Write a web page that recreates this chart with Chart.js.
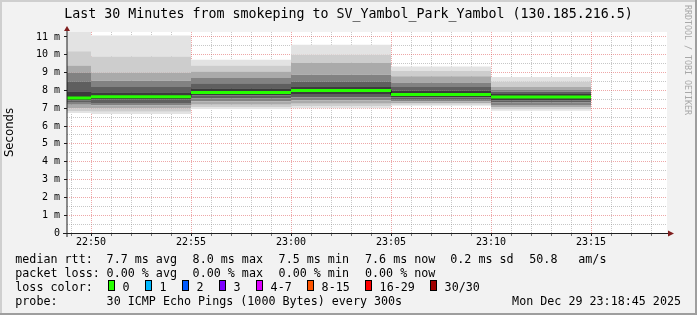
<!DOCTYPE html>
<html>
<head>
<meta charset="utf-8">
<title>smokeping - SV_Yambol_Park_Yambol</title>
<script src="https://cdn.jsdelivr.net/npm/chart.js@4.4.1/dist/chart.umd.min.js"></script>
<style>
  html, body { margin: 0; padding: 0; background: #f2f2f2; }
  #wrap { width: 697px; height: 315px; }
</style>
</head>
<body>
<div id="wrap"><canvas id="smoke" width="697" height="315"></canvas></div>
<script>
// rrd steps (300s), value belongs to the step that ends here
var stepEnds = ['22:50', '22:55', '23:00', '23:05', '23:10', '23:15'];
var stepMinutes = 5;
var viewStart = '22:48:48';
var viewEnd = '23:18:48';

// sorted ping rtt (ms) per step, rank n of 30
var ping1  = [6.73, 6.68, 6.96, 7.00, 7.14, 6.86];
var ping2  = [6.85, 6.80, 7.05, 7.10, 7.20, 6.93];
var ping4  = [7.00, 6.98, 7.20, 7.25, 7.28, 7.05];
var ping7  = [7.20, 7.15, 7.40, 7.45, 7.38, 7.18];
var ping10 = [7.35, 7.30, 7.55, 7.60, 7.48, 7.32];
var ping13 = [7.45, 7.50, 7.72, 7.80, 7.60, 7.45];
var median = [7.57, 7.65, 7.89, 8.00, 7.77, 7.63];
var ping18 = [7.95, 7.90, 8.12, 8.20, 7.98, 7.80];
var ping21 = [8.50, 8.20, 8.40, 8.50, 8.20, 7.92];
var ping24 = [9.00, 8.55, 8.70, 8.88, 8.45, 8.05];
var ping27 = [9.40, 9.00, 9.07, 9.55, 8.80, 8.20];
var ping29 = [10.20, 9.90, 9.40, 10.00, 9.10, 8.50];
var ping30 = [11.28, 11.09, 9.72, 10.57, 9.35, 8.75];
var lossCount = [0, 0, 0, 0, 0, 0];

var lossLabels = ['0', '1', '2', '3', '4-7', '8-15', '16-29', '30/30'];
var lossFrom   = [0, 1, 2, 3, 4, 8, 16, 30];
var lossColors = ['#26ff00', '#00b8ff', '#0059ff', '#7e00ff', '#dd00ff', '#ff5500', '#ff0000', '#a00000'];

var rttAvg = 7.7, rttMax = 8.0, rttMin = 7.5, rttNow = 7.6, rttSd = 0.2, rttAmS = 50.8;
var lossAvg = 0, lossMax = 0, lossMin = 0, lossNow = 0;

var titleText = 'Last 30 Minutes from smokeping to SV_Yambol_Park_Yambol (130.185.216.5)';
var probeText = '30 ICMP Echo Pings (1000 Bytes) every 300s';
var stampText = 'Mon Dec 29 23:18:45 2025';

var MONO = '"DejaVu Sans Mono", monospace';

function toMin(s) {
  var p = s.split(':');
  return (+p[0]) * 60 + (+p[1]) + (p[2] ? (+p[2]) / 60 : 0);
}
function hhmm(v) {
  var h = Math.floor(v / 60), m = Math.round(v - h * 60);
  return (h < 10 ? '0' : '') + h + ':' + (m < 10 ? '0' : '') + m;
}
function lossColor(n) {
  var c = lossColors[0];
  for (var i = 0; i < lossFrom.length; i++) { if (n >= lossFrom[i]) c = lossColors[i]; }
  return c;
}

// each step as a flat run from its start to its end
function stepPoints(series) {
  var pts = [];
  stepEnds.forEach(function(e, k) {
    var end = toMin(e);
    pts.push({ x: end - stepMinutes, y: series[k] });
    pts.push({ x: end, y: series[k] });
  });
  return pts;
}
function brokenPoints(series) {
  var pts = [];
  stepEnds.forEach(function(e, k) {
    var end = toMin(e);
    pts.push({ x: end - stepMinutes, y: series[k] });
    pts.push({ x: end, y: series[k] });
    pts.push({ x: end, y: null });
  });
  return pts;
}

// smoke: bands between neighbouring ranks, darker towards the median
var ranks = [ping1, ping2, ping4, ping7, ping10, ping13, median, ping18, ping21, ping24, ping27, ping29, ping30];
var bandGrey = [0, 227, 205, 170, 130, 95, 60, 60, 95, 130, 170, 205, 227];

var datasets = ranks.map(function(r, i) {
  var g = bandGrey[i];
  return {
    data: stepPoints(r),
    borderWidth: 0,
    pointRadius: 0,
    order: 3,
    fill: i === 0 ? false : { target: i - 1 },
    backgroundColor: 'rgb(' + g + ',' + g + ',' + g + ')'
  };
});

// median line (dark) and loss coloured bar on top
datasets.push({
  data: stepPoints(median),
  borderColor: '#202020',
  borderWidth: 1,
  pointRadius: 0,
  fill: false,
  order: 2
});
datasets.push({
  data: brokenPoints(median),
  borderWidth: 3,
  pointRadius: 0,
  fill: false,
  spanGaps: false,
  order: 1,
  borderColor: lossColor(lossCount[0]),
  segment: {
    borderColor: function(ctx) { return lossColor(lossCount[Math.floor(ctx.p0DataIndex / 3)]); }
  }
});

var MINOR = 'rgba(143,143,143,0.5)';
var MAJOR = 'rgba(222,79,79,0.5)';

var rrdFrame = {
  id: 'rrdFrame',
  beforeDraw: function(chart) {
    var ctx = chart.ctx, w = chart.width, h = chart.height, a = chart.chartArea;
    ctx.save();
    ctx.fillStyle = '#f2f2f2';
    ctx.fillRect(0, 0, w, h);
    ctx.fillStyle = '#cfcfcf';
    ctx.fillRect(0, 0, w, 2);
    ctx.fillRect(0, 0, 2, h);
    ctx.fillStyle = '#9e9e9e';
    ctx.fillRect(0, h - 2, w, 2);
    ctx.fillRect(w - 2, 0, 2, h);
    ctx.fillStyle = '#ffffff';
    ctx.fillRect(a.left, a.top, a.right - a.left, a.bottom - a.top);
    ctx.restore();
  },
  afterDraw: function(chart) {
    var ctx = chart.ctx, a = chart.chartArea, w = chart.width;
    ctx.save();

    // axes with arrows
    ctx.strokeStyle = '#1f1f1f';
    ctx.lineWidth = 1;
    ctx.beginPath();
    ctx.moveTo(a.left - 4, a.bottom + 0.5);
    ctx.lineTo(a.right + 2, a.bottom + 0.5);
    ctx.moveTo(a.left, a.bottom + 4);
    ctx.lineTo(a.left, a.top - 1);
    ctx.stroke();
    ctx.fillStyle = '#801f1f';
    ctx.beginPath();
    ctx.moveTo(a.right + 7, a.bottom + 0.5);
    ctx.lineTo(a.right + 1, a.bottom - 2.5);
    ctx.lineTo(a.right + 1, a.bottom + 3.5);
    ctx.closePath();
    ctx.fill();
    ctx.beginPath();
    ctx.moveTo(a.left, a.top - 6);
    ctx.lineTo(a.left - 3, a.top - 1);
    ctx.lineTo(a.left + 3, a.top - 1);
    ctx.closePath();
    ctx.fill();

    // title
    ctx.fillStyle = '#000';
    ctx.font = '13.3px ' + MONO;
    ctx.textAlign = 'center';
    ctx.textBaseline = 'alphabetic';
    ctx.fillText(titleText, w / 2, 18);

    // vertical label
    ctx.save();
    ctx.translate(10, (a.top + a.bottom) / 2);
    ctx.rotate(-Math.PI / 2);
    ctx.font = '11.7px "DejaVu Sans", sans-serif';
    ctx.textBaseline = 'middle';
    ctx.fillText('Seconds', 0, 0);
    ctx.restore();

    // watermark
    ctx.save();
    ctx.translate(687, 5);
    ctx.rotate(Math.PI / 2);
    ctx.font = '8.3px ' + MONO;
    ctx.fillStyle = '#a8a8a8';
    ctx.textAlign = 'left';
    ctx.textBaseline = 'middle';
    ctx.fillText('RRDTOOL / TOBI OETIKER', 0, 0);
    ctx.restore();

    // legend
    ctx.font = '11.7px ' + MONO;
    ctx.textAlign = 'left';
    ctx.textBaseline = 'alphabetic';
    ctx.fillStyle = '#000';
    var cols = [106.6, 192.6, 278.6, 365];
    var rows = [263, 277, 291, 305];

    ctx.fillText('median rtt:', 15.3, rows[0]);
    [[rttAvg, 'avg'], [rttMax, 'max'], [rttMin, 'min'], [rttNow, 'now']].forEach(function(s, i) {
      ctx.fillText(s[0].toFixed(1) + ' ms ' + s[1], cols[i], rows[0]);
    });
    ctx.fillText(rttSd.toFixed(1) + ' ms sd', 450.3, rows[0]);
    ctx.fillText(rttAmS.toFixed(1), 529.3, rows[0]);
    ctx.fillText('am/s', 578.3, rows[0]);

    ctx.fillText('packet loss:', 15.3, rows[1]);
    [[lossAvg, 'avg'], [lossMax, 'max'], [lossMin, 'min'], [lossNow, 'now']].forEach(function(s, i) {
      ctx.fillText(s[0].toFixed(2) + ' % ' + s[1], cols[i], rows[1]);
    });

    ctx.fillText('loss color:', 15.3, rows[2]);
    var boxX = [108, 145, 182, 219, 256, 307, 365, 430];
    lossLabels.forEach(function(lbl, i) {
      var bx = boxX[i];
      ctx.fillStyle = lossColors[i];
      ctx.fillRect(bx, 280, 7, 11);
      ctx.strokeStyle = '#000';
      ctx.strokeRect(bx + 0.5, 280.5, 6, 10);
      ctx.fillStyle = '#000';
      ctx.fillText(lbl, bx + 14.6, rows[2]);
    });

    ctx.fillText('probe:', 15.3, rows[3]);
    ctx.fillText(probeText, cols[0], rows[3]);
    ctx.textAlign = 'right';
    ctx.fillText(stampText, 681, rows[3]);

    ctx.restore();
  }
};

var xMin = toMin(viewStart), xMax = toMin(viewEnd);
var yMax = Math.max.apply(null, ping30);

new Chart(document.getElementById('smoke'), {
  type: 'line',
  data: { datasets: datasets },
  options: {
    responsive: false,
    animation: false,
    devicePixelRatio: 1,
    layout: { padding: { left: 0, top: 32, right: 30, bottom: 62 } },
    plugins: {
      legend: { display: false },
      tooltip: { enabled: false },
      title: { display: false }
    },
    elements: { line: { tension: 0 }, point: { radius: 0 } },
    scales: {
      x: {
        type: 'linear',
        min: xMin,
        max: xMax,
        z: 1,
        offset: false,
        afterFit: function(s) { s.height = 20; },
        afterBuildTicks: function(s) {
          var t = [];
          for (var v = Math.ceil(xMin); v <= Math.floor(xMax); v++) t.push({ value: v });
          s.ticks = t;
        },
        border: { display: false, dash: [1, 1] },
        grid: {
          color: function(c) { return c.tick && c.tick.value % 5 === 0 ? MAJOR : MINOR; },
          tickColor: function(c) { return c.tick && c.tick.value % 5 === 0 ? '#1f1f1f' : '#777'; },
          tickLength: 3,
          lineWidth: 1
        },
        ticks: {
          autoSkip: false,
          maxRotation: 0,
          padding: 0,
          color: '#000',
          font: { family: MONO, size: 10 },
          callback: function(v) { return v % 5 === 0 ? hhmm(v) : ''; }
        }
      },
      y: {
        min: 0,
        max: yMax,
        z: 1,
        afterFit: function(s) { s.width = 67; },
        afterBuildTicks: function(s) {
          var t = [];
          for (var v = 0; v <= Math.floor(yMax); v += 0.5) t.push({ value: v });
          s.ticks = t;
        },
        border: { display: false, dash: [1, 1] },
        grid: {
          color: function(c) { return c.tick && Number.isInteger(c.tick.value) ? MAJOR : MINOR; },
          tickColor: function(c) { return c.tick && Number.isInteger(c.tick.value) ? '#1f1f1f' : 'rgba(0,0,0,0)'; },
          tickLength: 3,
          lineWidth: 1
        },
        ticks: {
          autoSkip: false,
          padding: 4,
          color: '#000',
          font: { family: MONO, size: 10 },
          callback: function(v) {
            if (!Number.isInteger(v)) return '';
            return v === 0 ? '0' : v + ' m';
          }
        }
      }
    }
  },
  plugins: [rrdFrame]
});
</script>
</body>
</html>
